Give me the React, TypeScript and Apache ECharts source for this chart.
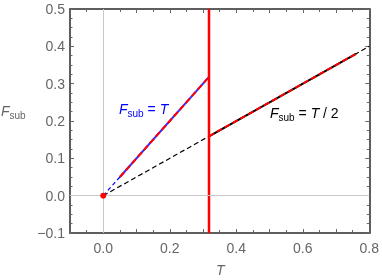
import React, { useEffect, useRef } from "react";
import * as echarts from "echarts";

const TC = 0.318; // critical temperature (vertical line)
const originPoint = [[0, 0]];
const halfDashed = [[0, 0], [0.8, 0.4]];
const linearDashed = [[0, 0], [0.05, 0.05]];
const linearSolid = [[0.05, 0.05], [TC, TC]];
const halfSolid = [[TC, TC / 2], [0.76, 0.38]];
const criticalLine = [[TC, -0.1], [TC, 0.5]];
const xRange = [-0.1, 0.8];
const yRange = [-0.1, 0.5];

const FONT = "Liberation Sans";
const GRAY = "#666";
const FRAME = "#5e5e5e";

export default function App() {
  const ref = useRef<HTMLDivElement>(null);
  useEffect(() => {
    const chart = echarts.init(ref.current!, null, { renderer: "svg" });
    const fmtNum = (v: number) => {
      const s = v.toFixed(1);
      return s.replace("-", "\u2212");
    };
    const axisLine = { show: true, onZero: false, lineStyle: { color: FRAME, width: 2 } };
    const xAxisBase = {
      type: "value",
      min: xRange[0],
      max: xRange[1],
      interval: 0.1,
      axisLine,
      axisTick: { show: true, inside: true, length: 4, lineStyle: { color: GRAY, width: 1 } },
      minorTick: { show: true, splitNumber: 2, length: 3, lineStyle: { color: GRAY } },
      splitLine: { show: false },
    };
    const yAxisBase = {
      type: "value",
      min: yRange[0],
      max: yRange[1],
      interval: 0.1,
      axisLine,
      axisTick: { show: true, inside: true, length: 4, lineStyle: { color: GRAY, width: 1 } },
      minorTick: { show: true, splitNumber: 4, length: 2.5, lineStyle: { color: GRAY } },
      splitLine: { show: false },
    };
    const richLabel = (color: string, tail: string) => ({
      text: `{f|F}{s|sub}{n| = }{f|T}${tail}`,
      rich: {
        f: { fontFamily: FONT, fontSize: 14, fontStyle: "italic", fill: color, color },
        s: { fontFamily: FONT, fontSize: 10, fill: color, color, padding: [9, 0, 0, 0] },
        n: { fontFamily: FONT, fontSize: 14, fill: color, color },
      },
      fill: color,
    });
    chart.setOption({
      animation: false,
      grid: { left: 70, right: 11, top: 9, bottom: 47 },
      xAxis: [
        {
          ...xAxisBase,
          position: "bottom",
          axisLabel: {
            color: GRAY,
            fontFamily: FONT,
            fontSize: 14,
            margin: 8,
            formatter: (v: number) => (Math.round(v * 10) % 2 === 0 ? fmtNum(v) : ""),
          },
        },
        { ...xAxisBase, position: "top", axisLabel: { show: false } },
      ],
      yAxis: [
        {
          ...yAxisBase,
          position: "left",
          axisLabel: { color: GRAY, fontFamily: FONT, fontSize: 14, margin: 5, formatter: fmtNum },
        },
        { ...yAxisBase, position: "right", axisLabel: { show: false } },
      ],
      graphic: [
        {
          type: "text",
          left: 216,
          top: 263,
          style: { text: "T", font: `italic 14px ${FONT}`, fill: GRAY },
        },
        {
          type: "text",
          left: 1,
          top: 104,
          style: { ...richLabel(GRAY, ""), text: "{f|F}{s|sub}" },
        },
        {
          type: "text",
          left: 119,
          top: 102,
          style: richLabel("#0000ff", ""),
        },
        {
          type: "text",
          left: 270,
          top: 106,
          style: richLabel("#000000", "{n| / 2}"),
        },
      ],
      series: [
        {
          type: "line",
          data: [],
          silent: true,
          markLine: {
            silent: true,
            symbol: "none",
            label: { show: false },
            lineStyle: { color: "#c8c8c8", width: 1, type: "solid" },
            data: [{ xAxis: 0 }, { yAxis: 0 }],
          },
        },
        {
          type: "line",
          data: halfDashed,
          showSymbol: false,
          lineStyle: { color: "#000", width: 1.2, type: [5, 3] },
        },
        {
          type: "line",
          data: linearDashed,
          showSymbol: false,
          lineStyle: { color: "#0000ff", width: 1.2, type: [4, 3] },
        },
        {
          type: "line",
          data: linearSolid,
          showSymbol: false,
          lineStyle: { color: "#3a2cff", width: 2, type: "solid" },
        },
        {
          type: "line",
          data: linearSolid,
          showSymbol: false,
          lineStyle: { color: "#ff0000", width: 2, type: [6, 3] },
        },
        {
          type: "line",
          data: halfSolid,
          showSymbol: false,
          lineStyle: { color: "#000", width: 2, type: "solid" },
        },
        {
          type: "line",
          data: halfSolid,
          showSymbol: false,
          lineStyle: { color: "#ff0000", width: 2, type: [6, 3] },
        },
        {
          type: "line",
          data: criticalLine,
          showSymbol: false,
          lineStyle: { color: "#ff0000", width: 2.5, type: "solid" },
        },
        {
          type: "scatter",
          data: originPoint,
          symbol: "circle",
          symbolSize: 6,
          z: 10,
          itemStyle: { color: "#ff0000", opacity: 1, borderWidth: 0 },
        },
      ],
    });
    return () => chart.dispose();
  }, []);
  return (
    <div
      ref={ref}
      style={{ position: "fixed", left: 0, top: 0, width: 382, height: 280 }}
    />
  );
}
